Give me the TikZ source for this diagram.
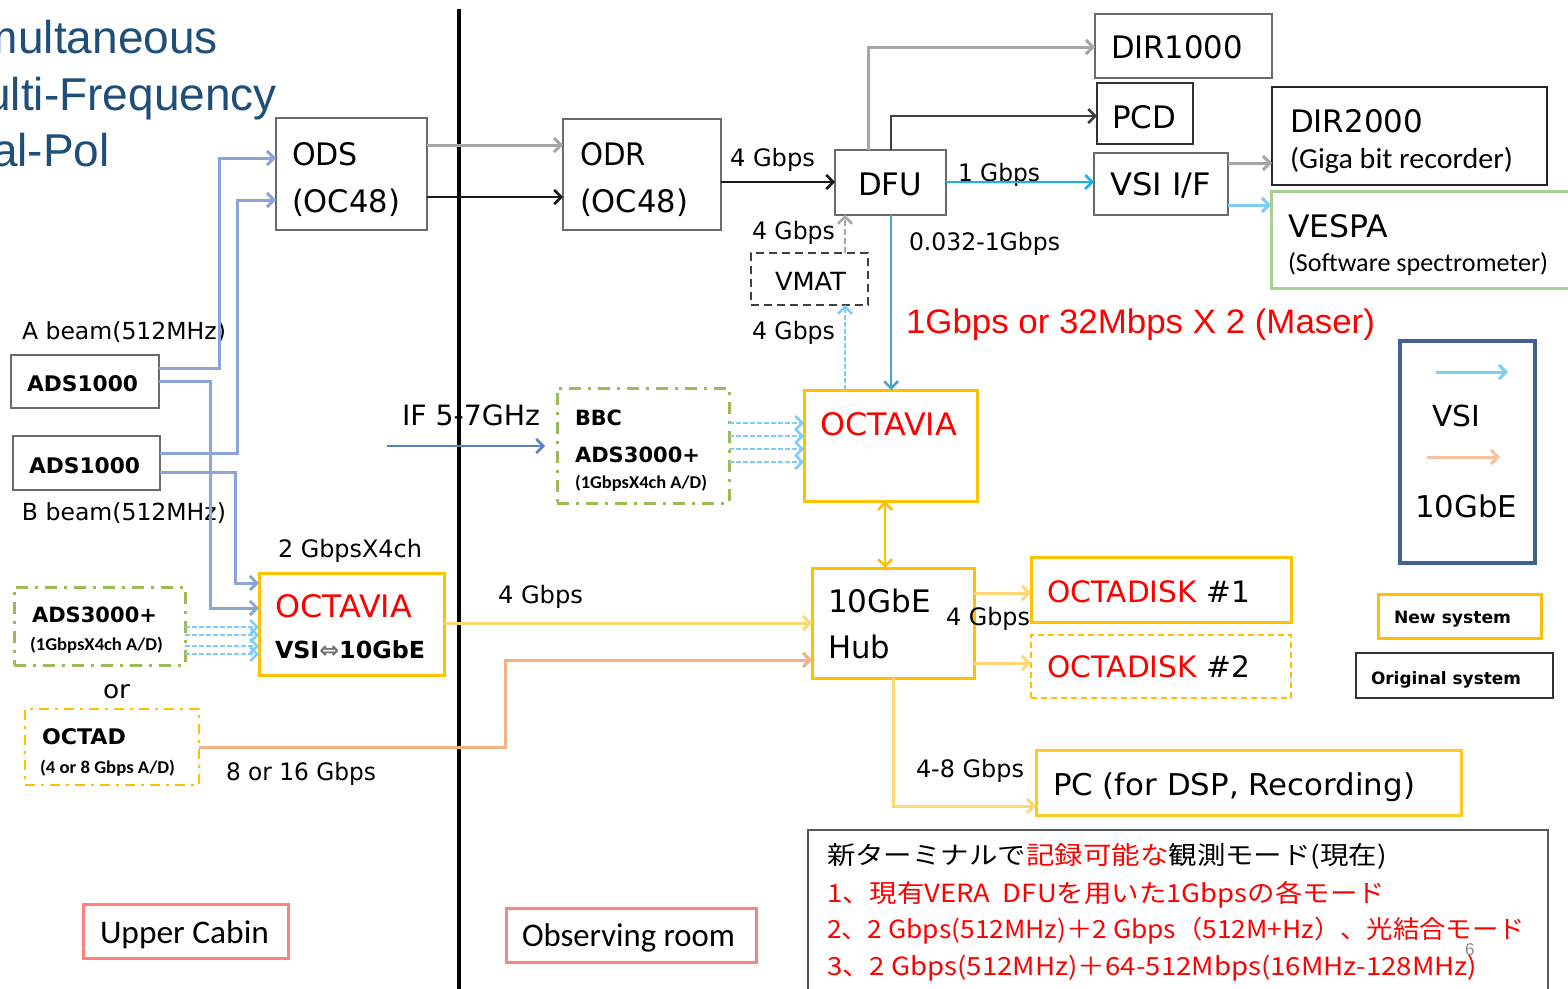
\documentclass[tikz,border=0pt]{standalone}
\usepackage{fontspec}
\setmainfont{DejaVu Sans}
\newfontfamily\libsans{Liberation Sans}
\newfontfamily\carl{Carlito}
\newfontfamily\jpfont{Noto Sans CJK JP}
\usetikzlibrary{arrows.meta}
\definecolor{titleblue}{HTML}{1F4E79}
\definecolor{boxgray}{HTML}{6A6A6A}
\definecolor{adsblue}{HTML}{8AA5D6}
\definecolor{lgray}{HTML}{A6A6A6}
\definecolor{vsiblue}{HTML}{1BB0EE}
\definecolor{vsilight}{HTML}{7DCDF5}
\definecolor{tealblue}{HTML}{4BA3C8}
\definecolor{ifblue}{HTML}{5B82C0}
\definecolor{gold}{HTML}{FFC000}
\definecolor{lgold}{HTML}{FFD775}
\definecolor{peach}{HTML}{F4B183}
\definecolor{ggreen}{HTML}{9BBB59}
\definecolor{vgreen}{HTML}{A9D18E}
\definecolor{legblue}{HTML}{41618F}
\definecolor{pinkred}{HTML}{FF8080}
\definecolor{jred}{HTML}{FF0000}
\definecolor{arrgray}{HTML}{808080}
\newsavebox\fitbox
\newcommand\fs[1]{\fontsize{#1}{#1}\selectfont}
\newcommand\fitw[2]{\sbox\fitbox{#2}\pgfmathsetmacro\fitsx{#1/\the\wd\fitbox}\scalebox{\fitsx}[1]{\usebox\fitbox}}
\tikzset{
  t/.style={inner sep=0pt, outer sep=0pt, anchor=base west},
  bx/.style={draw=boxgray, line width=2.5pt, inner sep=0pt, outer sep=0pt, anchor=north west},
  goldbox/.style={bx, draw=gold, line width=3pt},
  greenbox/.style={bx, draw=ggreen, line width=3pt, dash pattern=on 12pt off 7pt on 3pt off 7pt},
  tip/.style={-{Straight Barb[length=7pt,width=14pt]}},
  bl/.style={draw=adsblue, line width=3pt, tip},
  gl/.style={draw=lgray, line width=3pt, tip},
  kl/.style={draw=black!90, line width=2.5pt, tip},
  vl/.style={draw=vsiblue, line width=2.5pt, tip},
  vl2/.style={draw=vsilight, line width=3pt, tip},
  vd/.style={draw=vsilight, line width=2.5pt, dash pattern=on 5pt off 2pt, tip},
  gd/.style={draw=lgold, line width=3pt, tip},
}
\begin{document}
\begin{tikzpicture}[x=1pt,y=-1pt]
\useasboundingbox (0,0) rectangle (1568,988);
\begin{scope}
\clip (0,0) rectangle (1568,988);
\fill[white] (0,0) rectangle (1568,988);

% title
\node[inner sep=0pt, anchor=base east, text=titleblue] (ti1) at (218,53) {\libsans\fs{46}Simultaneous};
\node[inner sep=0pt, anchor=base east, text=titleblue] (ti2) at (277,110) {\libsans\fs{46}Multi-Frequency};
\node[inner sep=0pt, anchor=base east, text=titleblue] (ti3) at (110,166) {\libsans\fs{46}Dual-Pol};

% divider
\draw[line width=4.5pt] (459,9) -- (459,995);

% boxes
\node[bx, minimum width=151pt, minimum height=112pt] (ods) at (276,118) {};
\node[bx, minimum width=158pt, minimum height=111pt] (odr) at (563,119) {};
\node[bx, minimum width=111pt, minimum height=65pt] (dfu) at (835,150) {};
\node[bx, minimum width=177pt, minimum height=64pt] (dir1000) at (1095,14) {};
\node[bx, draw=black!80, minimum width=96pt, minimum height=61pt] (pcd) at (1097,83) {};
\node[bx, draw=black!85, minimum width=275pt, minimum height=98pt] (dir2000) at (1272,87) {};
\node[bx, minimum width=134pt, minimum height=62pt] (vsi) at (1094,153) {};
\node[bx, draw=vgreen, line width=3pt, minimum width=304pt, minimum height=97pt] (vespa) at (1271,191) {};
\node[bx, draw=black!75, dash pattern=on 8pt off 5pt, minimum width=117pt, minimum height=52pt] (vmat) at (751,253) {};
\node[goldbox, minimum width=173pt, minimum height=111pt] (octm) at (804,390) {};
\node[greenbox, minimum width=172pt, minimum height=115pt] (bbc) at (557,388) {};
\node[bx, minimum width=148pt, minimum height=53pt] (ads1) at (11,355) {};
\node[bx, minimum width=147pt, minimum height=54pt] (ads2) at (13,436) {};
\node[goldbox, minimum width=185pt, minimum height=102pt] (octl) at (259,573) {};
\node[greenbox, minimum width=171pt, minimum height=78pt] (ads3) at (14,587) {};
\node[goldbox, line width=2.5pt, dash pattern=on 10pt off 6pt on 3pt off 6pt, minimum width=174pt, minimum height=76pt] (octad) at (25,709) {};
\node[goldbox, minimum width=162pt, minimum height=110pt] (hub) at (812,568) {};
\node[goldbox, minimum width=260pt, minimum height=65pt] (disk1) at (1031,557) {};
\node[goldbox, line width=2.5pt, dash pattern=on 6pt off 4pt, minimum width=260pt, minimum height=63pt] (disk2) at (1031,635) {};
\node[goldbox, draw=gold!85, minimum width=425pt, minimum height=65pt] (pc) at (1036,750) {};
\node[bx, draw=legblue, line width=4pt, minimum width=135pt, minimum height=222pt] (legend) at (1400,341) {};
\node[goldbox, minimum width=163pt, minimum height=44pt] (newsys) at (1378,594) {};
\node[bx, draw=black!80, minimum width=197pt, minimum height=45pt] (origsys) at (1356,653) {};
\node[bx, draw=black!65, minimum width=740pt, minimum height=180pt] (jpbox) at (808,830) {};
\node[bx, draw=pinkred, line width=3pt, minimum width=205pt, minimum height=54pt] (upper) at (83,904) {};
\node[bx, draw=pinkred, line width=3pt, minimum width=250pt, minimum height=54pt] (obs) at (506,908) {};

% texts in boxes
\node[t] (tods1) at (292,165) {\fitw{66}{\fs{31}ODS}};
\node[t] (tods2) at (292,212) {\fitw{108}{\fs{31}(OC48)}};
\node[t] (todr1) at (580,165) {\fitw{66}{\fs{31}ODR}};
\node[t] (todr2) at (580,212) {\fitw{108}{\fs{31}(OC48)}};
\node[t] (tdfu) at (858,195) {\fitw{64}{\fs{31}DFU}};
\node[t] (tdir1) at (1111,58) {\fitw{132}{\fs{31}DIR1000}};
\node[t] (tpcd) at (1112,128) {\fitw{64}{\fs{31}PCD}};
\node[t] (tdir2) at (1290,132) {\fitw{133}{\fs{31}DIR2000}};
\node[t] (tdir2b) at (1290,168) {\fitw{223}{\carl\fs{29}(Giga bit recorder)}};
\node[t] (tvsi) at (1110,195) {\fitw{101}{\fs{31}VSI I/F}};
\node[t] (tvespa) at (1288,237) {\fitw{100}{\fs{31}VESPA}};
\node[t] (tvespab) at (1288,271) {\fitw{260}{\carl\fs{26}(Software spectrometer)}};
\node[t] (tvmat) at (775,290) {\fitw{71}{\fs{25}VMAT}};
\node[t, text=jred] (toctm) at (820,435) {\fitw{137}{\fs{31}OCTAVIA}};
\node[t] (tbbc1) at (575,425) {\fitw{47}{\bfseries\fs{21}BBC}};
\node[t] (tbbc2) at (575,462) {\fitw{125}{\bfseries\fs{21}ADS3000+}};
\node[t] (tbbc3) at (575,488) {\fitw{132}{\carl\bfseries\fs{18}(1GbpsX4ch A/D)}};
\node[t] (tads1) at (27,391) {\fitw{111}{\bfseries\fs{21.5}ADS1000}};
\node[t] (tads2) at (29,473) {\fitw{111}{\bfseries\fs{21.5}ADS1000}};
\node[t, text=jred] (toctl1) at (275,617) {\fitw{137}{\fs{31}OCTAVIA}};
\node[t] (toctl2) at (275,658) {\fitw{150}{\bfseries\fs{23.5}VSI\textcolor{black!55}{⇔}10GbE}};
\node[t] (tads3a) at (32,622) {\fitw{125}{\bfseries\fs{21}ADS3000+}};
\node[t] (tads3b) at (30,650) {\fitw{133}{\carl\bfseries\fs{18}(1GbpsX4ch A/D)}};
\node[t] (toctad1) at (42,744) {\fitw{84}{\bfseries\fs{21.5}OCTAD}};
\node[t] (toctad2) at (40,773) {\fitw{135}{\carl\bfseries\fs{18}(4 or 8 Gbps A/D)}};
\node[t] (thub1) at (828,612) {\fitw{103}{\fs{31}10GbE}};
\node[t] (thub2) at (828,658) {\fitw{62}{\fs{31}Hub}};
\node[t] (tdisk1) at (1047,602) {\fitw{203}{\fs{29.5}\textcolor{jred}{OCTADISK} \#1}};
\node[t] (tdisk2) at (1047,677) {\fitw{203}{\fs{29.5}\textcolor{jred}{OCTADISK} \#2}};
\node[t] (tpc) at (1053,795) {\fitw{362}{\fs{30}PC (for DSP, Recording)}};
\node[t] (tleg1) at (1432,426) {\fitw{48}{\fs{29}VSI}};
\node[t] (tleg2) at (1415,517) {\fitw{102}{\fs{30}10GbE}};
\node[t] (tnew) at (1394,623) {\fitw{117}{\bfseries\fs{17}New system}};
\node[t] (torig) at (1371,684) {\fitw{150}{\bfseries\fs{17}Original system}};
\node[t] (tupper) at (100,943) {\fitw{169}{\carl\fs{33}Upper Cabin}};
\node[t] (tobs) at (522,946) {\fitw{213}{\carl\fs{33}Observing room}};

% japanese
\node[t] (jp1) at (827,864) {\fitw{560}{\jpfont\fs{25}新ターミナルで\textcolor{jred}{記録可能な}観測モード(現在)}};
\node[t, text=jred] (jp2) at (827,902) {\fitw{558}{\jpfont\fs{25}1、現有VERA\ \ DFUを用いた1Gbpsの各モード}};
\node[t, text=jred] (jp3) at (827,938) {\fitw{698}{\jpfont\fs{25}2、2 Gbps(512MHz)＋2 Gbps（512M+Hz）、光結合モード}};
\node[t, text=jred] (jp4) at (827,975) {\fitw{650}{\jpfont\fs{25}3、2 Gbps(512MHz)＋64-512Mbps(16MHz-128MHz)}};
\node[t, text=black!45] (pgno) at (1465,955) {\libsans\fs{17}6};

% free labels
\node[t] (l1) at (730,166) {\fitw{85}{\fs{24}4 Gbps}};
\node[t] (l2) at (958,181) {\fitw{82}{\fs{24}1 Gbps}};
\node[t] (l3) at (909,250) {\fitw{151}{\fs{24}0.032-1Gbps}};
\node[t] (l4) at (752,239) {\fitw{83}{\fs{24}4 Gbps}};
\node[t] (l5) at (752,339) {\fitw{83}{\fs{24}4 Gbps}};
\node[t, text=jred] (l6) at (906,333) {\fitw{469}{\libsans\fs{34}1Gbps or 32Mbps X 2 (Maser)}};
\node[t] (l7) at (22,339) {\fitw{204}{\fs{23.5}A beam(512MHz)}};
\node[t] (l8) at (22,520) {\fitw{204}{\fs{23.5}B beam(512MHz)}};
\node[t] (l9) at (402,425) {\fitw{138}{\fs{28}IF 5-7GHz}};
\node[t] (l10) at (278,557) {\fitw{144}{\fs{24}2 GbpsX4ch}};
\node[t] (l11) at (103,698) {\fitw{27}{\fs{25}or}};
\node[t] (l12) at (226,780) {\fitw{150}{\fs{24}8 or 16 Gbps}};
\node[t] (l13) at (498,603) {\fitw{85}{\fs{24}4 Gbps}};
\node[t] (l14) at (946,625) {\fitw{84}{\fs{24}4 Gbps}};
\node[t] (l15) at (916,777) {\fitw{108}{\fs{24}4-8 Gbps}};

% connectors: ADS1000 to ODS / OCTAVIA
\draw[bl] (ads1.east |- 0,368) -| (219,158) -- (ods.west |- 0,158);
\draw[bl] (ads2.east |- 0,453) -| (237,200) -- (ods.west |- 0,200);
\draw[bl] (ads1.east |- 0,381) -| (210,608) -- (octl.west |- 0,608);
\draw[bl] (ads2.east |- 0,472) -| (235,583) -- (octl.west |- 0,583);
% ODS -> ODR -> DFU
\draw[gl] (ods.east |- 0,145) -- (odr.west |- 0,145);
\draw[kl] (ods.east |- 0,197) -- (odr.west |- 0,197);
\draw[kl] (odr.east |- 0,182) -- (dfu.west |- 0,182);
% DFU outputs
\draw[gl] (dfu.north -| 868,0) |- (dir1000.west |- 0,47);
\draw[kl, draw=black!75] (dfu.north -| 891,0) |- (pcd.west |- 0,116);
\draw[vl] (dfu.east |- 0,182) -- (vsi.west |- 0,182);
\draw[gl] (vsi.east |- 0,163) -- (dir2000.west |- 0,163);
\draw[vl2] (vsi.east |- 0,205) -- (vespa.west |- 0,205);
\draw[draw=tealblue, line width=2.5pt, tip] (dfu.south -| 891,0) -- (octm.north -| 891,0);
\draw[draw=lgray, line width=2.5pt, dash pattern=on 6pt off 3pt, tip] (vmat.north -| 845,0) -- (dfu.south -| 845,0);
\draw[vd] (octm.north -| 845,0) -- (vmat.south -| 845,0);
% IF input
\coordinate (ifin) at (387,446);
\coordinate (ifend) at (545,446);
\draw[draw=ifblue, line width=2.5pt, tip] (ifin) -- (ifend);
% BBC -> OCTAVIA
\foreach \yy in {423,436,449,462} {\draw[vd] (bbc.east |- 0,\yy) -- (octm.west |- 0,\yy);}
\foreach \yy in {627,635,646,654} {\draw[vd] (ads3.east |- 0,\yy) -- (octl.west |- 0,\yy);}
% OCTAVIA <-> hub
\draw[draw=gold, line width=2.5pt, {Straight Barb[length=7pt,width=14pt]}-{Straight Barb[length=7pt,width=14pt]}] (octm.south -| 885,0) -- (hub.north -| 885,0);
\draw[gd] (octl.east |- 0,623) -- (hub.west |- 0,623);
\draw[draw=peach, line width=3pt, tip] (octad.east |- 0,747) -| (505,660) -- (hub.west |- 0,660);
\draw[gd] (hub.east |- 0,593) -- (disk1.west |- 0,593);
\draw[gd] (hub.east |- 0,663) -- (disk2.west |- 0,663);
\draw[gd] (hub.south -| 893,0) |- (pc.west |- 0,806);
% legend arrows
\coordinate (lega) at (1436,372);
\coordinate (legb) at (1508,372);
\coordinate (legc) at (1427,457);
\coordinate (legd) at (1500,457);
\draw[vl2] (lega) -- (legb);
\draw[draw=peach!80, line width=3pt, tip] (legc) -- (legd);
\end{scope}
\end{tikzpicture}
\end{document}
